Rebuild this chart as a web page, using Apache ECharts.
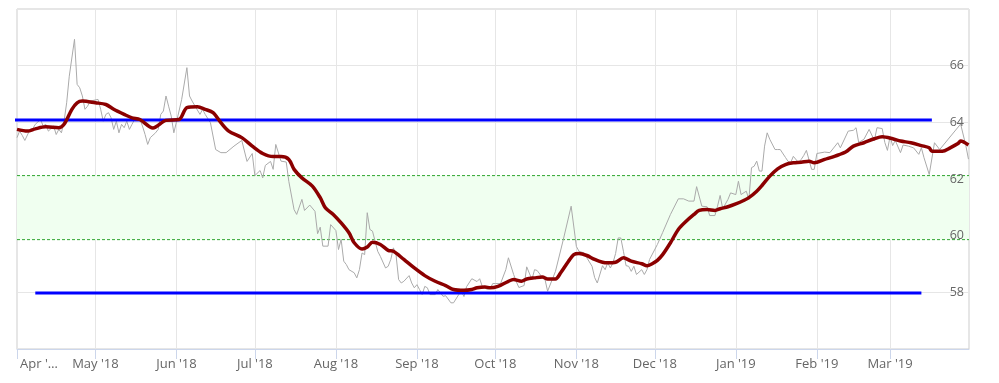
<!DOCTYPE html>
<html>
<head>
<meta charset="utf-8">
<script src="https://cdn.jsdelivr.net/npm/echarts@6/dist/echarts.min.js"></script>
<style>
html,body{margin:0;padding:0;background:#fff;}
#chart{width:999px;height:383px;}
</style>
</head>
<body>
<div id="chart"></div>
<script>
// ---- Data ----
var priceDates = ['2018-04-01','2018-04-02','2018-04-03','2018-04-04','2018-04-06','2018-04-07','2018-04-08','2018-04-10','2018-04-11','2018-04-12','2018-04-13','2018-04-15','2018-04-16','2018-04-17','2018-04-18','2018-04-19','2018-04-20','2018-04-21','2018-04-23','2018-04-24','2018-04-25','2018-04-26','2018-04-27','2018-04-28','2018-04-29','2018-05-02','2018-05-03','2018-05-04','2018-05-05','2018-05-06','2018-05-07','2018-05-08','2018-05-09','2018-05-10','2018-05-11','2018-05-12','2018-05-13','2018-05-14','2018-05-15','2018-05-16','2018-05-18','2018-05-19','2018-05-20','2018-05-21','2018-05-22','2018-05-24','2018-05-25','2018-05-26','2018-05-27','2018-05-28','2018-05-29','2018-05-30','2018-05-31','2018-06-02','2018-06-03','2018-06-05','2018-06-06','2018-06-07','2018-06-10','2018-06-11','2018-06-12','2018-06-14','2018-06-16','2018-06-18','2018-06-20','2018-06-23','2018-06-26','2018-06-28','2018-06-30','2018-07-01','2018-07-03','2018-07-04','2018-07-05','2018-07-07','2018-07-08','2018-07-09','2018-07-11','2018-07-13','2018-07-14','2018-07-16','2018-07-17','2018-07-19','2018-07-20','2018-07-22','2018-07-24','2018-07-25','2018-07-26','2018-07-27','2018-07-29','2018-07-30','2018-08-01','2018-08-02','2018-08-03','2018-08-04','2018-08-05','2018-08-06','2018-08-08','2018-08-09','2018-08-10','2018-08-11','2018-08-12','2018-08-13','2018-08-14','2018-08-15','2018-08-16','2018-08-17','2018-08-18','2018-08-20','2018-08-21','2018-08-22','2018-08-23','2018-08-24','2018-08-25','2018-08-26','2018-08-27','2018-08-29','2018-08-30','2018-08-31','2018-09-01','2018-09-02','2018-09-03','2018-09-04','2018-09-05','2018-09-06','2018-09-08','2018-09-09','2018-09-11','2018-09-12','2018-09-14','2018-09-15','2018-09-17','2018-09-18','2018-09-19','2018-09-20','2018-09-22','2018-09-24','2018-09-25','2018-09-26','2018-09-28','2018-09-29','2018-09-30','2018-10-01','2018-10-03','2018-10-05','2018-10-06','2018-10-08','2018-10-09','2018-10-10','2018-10-12','2018-10-13','2018-10-15','2018-10-16','2018-10-17','2018-10-19','2018-10-20','2018-10-21','2018-10-24','2018-10-27','2018-10-30','2018-11-01','2018-11-02','2018-11-04','2018-11-05','2018-11-07','2018-11-08','2018-11-09','2018-11-11','2018-11-12','2018-11-13','2018-11-14','2018-11-15','2018-11-16','2018-11-17','2018-11-18','2018-11-19','2018-11-20','2018-11-21','2018-11-22','2018-11-23','2018-11-24','2018-11-26','2018-11-27','2018-11-28','2018-11-29','2018-12-02','2018-12-04','2018-12-07','2018-12-10','2018-12-12','2018-12-14','2018-12-16','2018-12-17','2018-12-19','2018-12-21','2018-12-22','2018-12-24','2018-12-25','2018-12-26','2018-12-27','2018-12-29','2018-12-30','2019-01-01','2019-01-02','2019-01-03','2019-01-05','2019-01-06','2019-01-07','2019-01-08','2019-01-09','2019-01-10','2019-01-11','2019-01-12','2019-01-13','2019-01-14','2019-01-16','2019-01-17','2019-01-18','2019-01-20','2019-01-21','2019-01-22','2019-01-23','2019-01-25','2019-01-26','2019-01-27','2019-01-28','2019-01-30','2019-01-31','2019-02-01','2019-02-04','2019-02-06','2019-02-09','2019-02-10','2019-02-13','2019-02-15','2019-02-16','2019-02-17','2019-02-19','2019-02-21','2019-02-23','2019-02-24','2019-02-26','2019-02-27','2019-02-28','2019-03-01','2019-03-02','2019-03-03','2019-03-05','2019-03-06','2019-03-08','2019-03-10','2019-03-12','2019-03-13','2019-03-14','2019-03-16','2019-03-18','2019-03-20','2019-03-28','2019-03-30','2019-03-31'];
var priceValues = [63.46,63.69,63.54,63.36,63.75,63.77,63.93,64.10,63.87,63.93,63.69,63.87,63.57,63.75,63.63,64.04,64.69,65.63,66.93,65.34,65.22,64.93,64.46,64.57,64.75,64.81,64.46,64.04,64.28,64.34,64.16,63.75,64.04,63.63,63.93,63.81,64.04,63.75,63.93,64.10,64.10,63.87,63.57,63.22,63.46,63.63,63.75,64.28,64.40,64.93,64.57,64.22,63.63,64.40,64.81,65.93,64.93,64.75,64.28,64.46,64.28,63.99,63.04,62.93,62.93,63.16,63.36,62.62,62.90,62.12,62.30,62.04,62.48,62.62,62.34,63.22,62.63,62.60,61.91,60.92,60.75,61.28,60.89,61.08,60.86,60.07,60.30,59.63,59.63,60.39,60.18,59.51,59.87,59.10,58.98,58.80,58.69,58.51,58.80,59.39,59.33,60.81,60.22,60.16,59.80,59.45,59.27,58.86,58.92,59.16,59.57,59.33,58.45,58.33,58.39,58.59,58.33,58.16,58.27,58.10,57.92,58.21,58.16,57.92,57.92,58.10,57.86,57.88,57.63,57.63,57.92,58.04,57.85,58.20,58.48,58.38,58.48,58.21,58.10,58.13,58.31,58.31,58.31,58.80,59.22,58.63,58.38,58.17,58.24,58.90,58.45,58.80,58.77,58.52,58.45,58.04,58.74,59.86,61.04,59.62,59.45,59.39,59.22,58.92,58.52,58.33,58.94,58.80,59.04,58.86,59.04,59.37,59.92,59.92,59.45,58.94,58.92,58.74,58.92,58.63,58.80,58.63,58.80,59.16,59.69,60.11,60.75,61.30,61.30,61.22,61.22,61.73,61.04,61.02,60.71,60.71,61.04,61.42,60.95,61.28,61.51,61.45,61.92,61.45,61.57,61.28,62.40,62.45,62.63,62.28,62.28,63.16,63.63,63.40,63.04,63.04,63.04,62.76,62.62,62.58,62.80,62.58,62.69,62.83,63.01,62.34,62.34,62.90,62.95,62.93,63.28,63.10,63.69,63.72,63.81,63.29,63.40,63.75,63.36,63.81,63.78,63.29,63.01,63.50,63.18,63.36,62.93,63.20,63.16,63.10,62.87,63.10,62.75,62.16,63.28,63.04,63.94,63.18,62.70];

var avgDates = ['2018-04-01','2018-04-05','2018-04-08','2018-04-12','2018-04-17','2018-04-19','2018-04-22','2018-04-24','2018-04-26','2018-05-01','2018-05-05','2018-05-08','2018-05-12','2018-05-15','2018-05-18','2018-05-23','2018-05-28','2018-06-02','2018-06-05','2018-06-09','2018-06-12','2018-06-15','2018-06-18','2018-06-21','2018-06-26','2018-06-30','2018-07-04','2018-07-08','2018-07-11','2018-07-14','2018-07-16','2018-07-19','2018-07-23','2018-07-26','2018-07-28','2018-07-31','2018-08-03','2018-08-06','2018-08-08','2018-08-11','2018-08-13','2018-08-15','2018-08-18','2018-08-21','2018-08-23','2018-08-27','2018-08-31','2018-09-04','2018-09-08','2018-09-12','2018-09-15','2018-09-19','2018-09-22','2018-09-24','2018-09-27','2018-09-29','2018-10-02','2018-10-06','2018-10-08','2018-10-11','2018-10-13','2018-10-16','2018-10-19','2018-10-21','2018-10-24','2018-10-26','2018-10-29','2018-10-31','2018-11-02','2018-11-05','2018-11-08','2018-11-11','2018-11-13','2018-11-16','2018-11-19','2018-11-22','2018-11-26','2018-11-28','2018-11-30','2018-12-02','2018-12-04','2018-12-07','2018-12-10','2018-12-13','2018-12-16','2018-12-18','2018-12-21','2018-12-24','2018-12-26','2018-12-29','2019-01-01','2019-01-04','2019-01-06','2019-01-09','2019-01-11','2019-01-14','2019-01-17','2019-01-20','2019-01-23','2019-01-26','2019-01-29','2019-01-31','2019-02-04','2019-02-08','2019-02-12','2019-02-15','2019-02-19','2019-02-23','2019-02-26','2019-03-02','2019-03-05','2019-03-09','2019-03-13','2019-03-16','2019-03-17','2019-03-21','2019-03-24','2019-03-27','2019-03-28','2019-03-31'];
var avgValues = [63.75,63.69,63.77,63.84,63.81,63.93,64.46,64.69,64.75,64.69,64.63,64.46,64.28,64.16,64.10,63.80,64.07,64.10,64.52,64.55,64.46,64.34,63.99,63.69,63.46,63.16,62.90,62.79,62.79,62.69,62.34,62.04,61.75,61.34,60.98,60.75,60.45,60.10,59.75,59.53,59.60,59.77,59.69,59.48,59.45,59.16,58.86,58.59,58.39,58.24,58.10,58.07,58.10,58.16,58.19,58.16,58.21,58.39,58.45,58.39,58.47,58.51,58.54,58.47,58.47,58.69,59.10,59.33,59.37,59.30,59.16,59.06,59.04,59.06,59.22,59.10,59.01,58.94,59.01,59.13,59.33,59.75,60.22,60.51,60.75,60.89,60.92,60.89,60.95,61.02,61.12,61.24,61.34,61.57,61.77,62.10,62.36,62.51,62.57,62.59,62.63,62.57,62.69,62.81,62.95,63.16,63.28,63.42,63.49,63.42,63.34,63.28,63.18,63.10,62.98,62.98,63.10,63.25,63.34,63.20];

var upperLevel = 64.08;
var upperLevelDates = ['2018-03-28', '2019-03-17'];
var lowerLevel = 57.98;
var lowerLevelDates = ['2018-04-08', '2019-03-13'];
var bandLow = 59.86;
var bandHigh = 62.12;

var axisMin = '2018-04-01';
var axisMax = '2019-03-31 05:00';
var yMin = 56, yMax = 68, yStep = 2;
var monthNames = ['Jan','Feb','Mar','Apr','May','Jun','Jul','Aug','Sep','Oct','Nov','Dec'];
var firstTickLabel = "Apr '…";

// ---- Build series data ----
function zip(ds, vs) { return ds.map(function (d, i) { return [d, vs[i]]; }); }

var chart = echarts.init(document.getElementById('chart'), null, { renderer: 'canvas' });
var font = "'Open Sans', sans-serif";

function baseX(extra) {
  var o = {
    type: 'time', position: 'bottom',
    min: axisMin, max: axisMax,
    splitNumber: 12,
    minInterval: 28 * 86400000,
    maxInterval: 31 * 86400000,
    minorTick: { show: false }
  };
  for (var k in extra) o[k] = extra[k];
  return o;
}
function baseY(extra) {
  var o = { type: 'value', position: 'right', min: yMin, max: yMax, interval: yStep, axisTick: { show: false }, axisLine: { show: false } };
  for (var k in extra) o[k] = extra[k];
  return o;
}

var option = {
  animation: false,
  grid: { left: 17, right: 30, top: 9, bottom: 34, show: true, borderColor: '#cccccc', borderWidth: 1, backgroundColor: 'transparent' },
  xAxis: [
    baseX({
      axisLine: { show: false }, axisTick: { show: false }, axisLabel: { show: false },
      splitLine: { show: true, lineStyle: { color: '#e6e6e6', width: 1 } }
    }),
    baseX({
      z: 10,
      splitLine: { show: false },
      axisLine: { show: true, lineStyle: { color: '#ccd6eb', width: 1 } },
      axisTick: { show: true, length: 10, lineStyle: { color: '#ccd6eb', width: 1 } },
      axisLabel: {
        color: '#666666', fontFamily: font, fontSize: 13, margin: 9,
        showMaxLabel: false,
        formatter: function (val) {
          var d = new Date(val);
          if (d.getFullYear() === 2018 && d.getMonth() === 3) return '{first|' + firstTickLabel + '}';
          return monthNames[d.getMonth()] + " '" + String(d.getFullYear()).slice(2);
        },
        rich: { first: { color: '#666666', fontFamily: font, fontSize: 13, padding: [0, 0, 0, 44] } }
      }
    })
  ],
  yAxis: [
    baseY({ splitLine: { show: true, lineStyle: { color: '#e6e6e6', width: 1 } }, axisLabel: { show: false } }),
    baseY({
      z: 10, splitLine: { show: false },
      axisLabel: { inside: true, margin: 5, color: '#666666', fontFamily: font, fontSize: 12.5, showMinLabel: false, showMaxLabel: false }
    })
  ],
  series: [
    {
      name: 'band', type: 'line', data: [], silent: true, z: -1,
      markArea: {
        silent: true,
        itemStyle: { color: '#f0fff0' },
        data: [[{ yAxis: bandLow }, { yAxis: bandHigh }]]
      }
    },
    {
      name: 'bandLowLine', type: 'line', data: zip([axisMin, axisMax], [bandLow, bandLow]),
      showSymbol: false, symbol: 'none', silent: true,
      lineStyle: { color: '#2fa52f', width: 1, type: [3, 2] }, z: 1
    },
    {
      name: 'bandHighLine', type: 'line', data: zip([axisMin, axisMax], [bandHigh, bandHigh]),
      showSymbol: false, symbol: 'none', silent: true,
      lineStyle: { color: '#2fa52f', width: 1, type: [3, 2] }, z: 1
    },
    {
      name: 'price', type: 'line', data: zip(priceDates, priceValues),
      showSymbol: false, symbol: 'none',
      lineStyle: { color: '#aaaaaa', width: 1 },
      z: 2
    },
    {
      name: 'upper', type: 'line', data: zip(upperLevelDates, [upperLevel, upperLevel]),
      showSymbol: false, symbol: 'none', clip: false,
      lineStyle: { color: '#0000ff', width: 3 },
      z: 3
    },
    {
      name: 'lower', type: 'line', data: zip(lowerLevelDates, [lowerLevel, lowerLevel]),
      showSymbol: false, symbol: 'none', clip: false,
      lineStyle: { color: '#0000ff', width: 3 },
      z: 3
    },
    {
      name: 'average', type: 'line', data: zip(avgDates, avgValues),
      showSymbol: false, symbol: 'none', smooth: 0.3,
      lineStyle: { color: '#8b0000', width: 3.5 },
      z: 4
    }
  ]
};
chart.setOption(option);
</script>
</body>
</html>
